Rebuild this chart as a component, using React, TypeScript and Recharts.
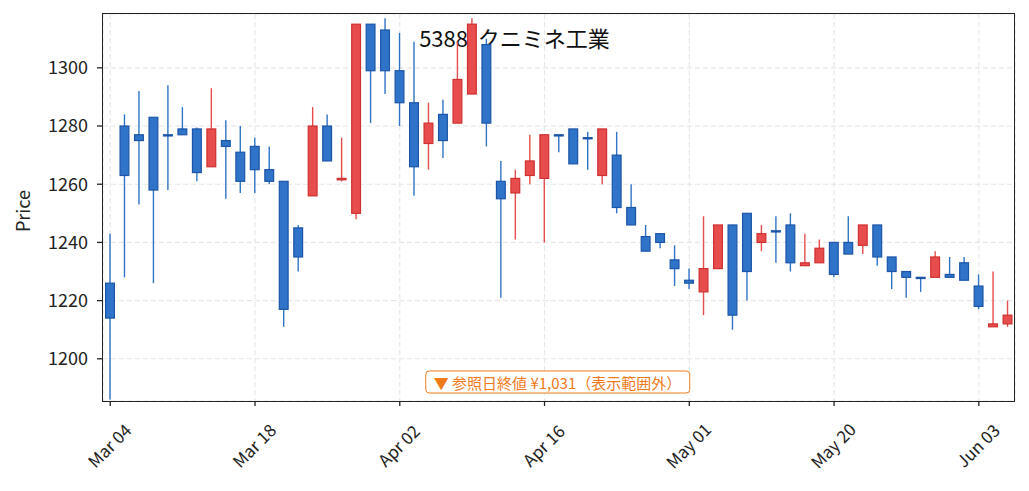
import {
  ComposedChart,
  Bar,
  XAxis,
  YAxis,
  CartesianGrid,
} from 'recharts';

// 5388 クニミネ工業 daily candles (trading days, ticks every 10 sessions)
const dates = [
  'Mar 04', 'Mar 05', 'Mar 06', 'Mar 07', 'Mar 08', 'Mar 11', 'Mar 12', 'Mar 13', 'Mar 14', 'Mar 15',
  'Mar 18', 'Mar 19', 'Mar 21', 'Mar 22', 'Mar 25', 'Mar 26', 'Mar 27', 'Mar 28', 'Mar 29', 'Apr 01',
  'Apr 02', 'Apr 03', 'Apr 04', 'Apr 05', 'Apr 08', 'Apr 09', 'Apr 10', 'Apr 11', 'Apr 12', 'Apr 15',
  'Apr 16', 'Apr 17', 'Apr 18', 'Apr 19', 'Apr 22', 'Apr 23', 'Apr 24', 'Apr 25', 'Apr 26', 'Apr 30',
  'May 01', 'May 02', 'May 07', 'May 08', 'May 09', 'May 10', 'May 13', 'May 14', 'May 15', 'May 17',
  'May 20', 'May 21', 'May 22', 'May 23', 'May 24', 'May 27', 'May 28', 'May 29', 'May 30', 'May 31',
  'Jun 03', 'Jun 04', 'Jun 05',
];

const opens = [
  1226, 1280, 1277, 1283, 1277, 1279, 1279, 1266, 1275, 1271,
  1273, 1265, 1261, 1245, 1256, 1280, 1261.5, 1250, 1315, 1313,
  1299, 1288, 1274, 1284, 1281, 1291, 1308, 1261, 1257, 1263,
  1262, 1277, 1279, 1276, 1263, 1270, 1252, 1242, 1243, 1234,
  1227, 1223, 1231, 1246, 1250, 1240, 1244, 1246, 1232, 1233,
  1240, 1240, 1239, 1246, 1235, 1230, 1228, 1228, 1229, 1233,
  1225, 1211, 1212,
];

const closes = [
  1214, 1263, 1275, 1258, 1277, 1277, 1264, 1279, 1273, 1261,
  1265, 1261, 1217, 1235, 1280, 1268, 1262, 1315, 1299, 1299,
  1288, 1266, 1281, 1275, 1296, 1315, 1281, 1255, 1262, 1268,
  1277, 1277, 1267, 1276, 1279, 1252, 1246, 1237, 1240, 1231,
  1226, 1231, 1246, 1215, 1230, 1243, 1244, 1233, 1233, 1238,
  1229, 1236, 1246, 1235, 1230, 1228, 1228, 1235, 1228, 1227,
  1218, 1212, 1215,
];

const highs = [
  1243, 1284, 1292, 1283, 1294, 1286.5, 1279.5, 1293, 1282, 1280,
  1276, 1273, 1261, 1246, 1286.5, 1284, 1276, 1315, 1315, 1317,
  1312, 1309, 1288, 1289, 1309, 1317, 1310, 1268, 1265, 1277,
  1277, 1277, 1279, 1278, 1279, 1278, 1260, 1246, 1243, 1239,
  1231, 1249, 1246, 1246, 1250, 1246, 1249, 1250, 1243, 1241,
  1240, 1249, 1246, 1246, 1235, 1230, 1228, 1237, 1235, 1235,
  1229, 1230, 1220,
];

const lows = [
  1186, 1228, 1253, 1226, 1258, 1277, 1261, 1266, 1255, 1257,
  1257, 1260, 1211, 1230, 1256, 1268, 1261, 1248, 1281, 1291,
  1280, 1256, 1265, 1269, 1281, 1291, 1273, 1221, 1241, 1260,
  1240, 1271, 1267, 1265, 1260, 1250, 1246, 1237, 1238, 1225,
  1224, 1215, 1231, 1210, 1220, 1237, 1233, 1230, 1232, 1233,
  1228, 1236, 1236, 1232, 1224, 1221, 1223, 1228, 1228, 1227,
  1217, 1211, 1211,
];

const xTicks = ['Mar 04', 'Mar 18', 'Apr 02', 'Apr 16', 'May 01', 'May 20', 'Jun 03'];
const yTicks = [1200, 1220, 1240, 1260, 1280, 1300];

const UP = { fill: '#e84d4d', stroke: '#cf3030' };
const DOWN = { fill: '#2f74c8', stroke: '#1c55a8' };
const FONT = '"Noto Sans CJK JP", "Noto Sans", sans-serif';

const data = dates.map((date, i) => ({
  date,
  open: opens[i],
  close: closes[i],
  high: highs[i],
  low: lows[i],
  range: [lows[i], highs[i]],
}));

function Candle(props: any) {
  const { x, y, width, height, payload } = props;
  if (!payload) return null;
  const { open, close, high, low } = payload;
  const top = Math.min(y, y + height);
  const h = Math.abs(height);
  const ratio = h / (high - low);
  const yOf = (v: number) => top + (high - v) * ratio;
  const c = close > open ? UP : DOWN;
  const bodyTop = yOf(Math.max(open, close));
  const bodyH = Math.max(yOf(Math.min(open, close)) - bodyTop, 1.2);
  const cx = x + width / 2;
  return (
    <g>
      <line x1={cx} x2={cx} y1={top} y2={top + h} stroke={c.fill} strokeWidth={1.4} />
      <rect
        x={x + 0.6}
        y={bodyTop}
        width={width - 1.2}
        height={bodyH}
        fill={c.fill}
        stroke={c.stroke}
        strokeWidth={1.2}
      />
    </g>
  );
}

function DateTick(props: any) {
  const { x, y, payload } = props;
  const cx = x - 1.5;
  const cy = y + 37;
  return (
    <text
      x={cx}
      y={cy}
      transform={`rotate(-45 ${cx} ${cy})`}
      textAnchor="middle"
      dominantBaseline="central"
      fontSize={17}
      fontFamily={FONT}
      fill="#222"
    >
      {payload.value}
    </text>
  );
}

export default function App() {
  return (
    <div style={{ position: 'absolute', left: 0, top: 0, width: 1029, height: 491, background: '#fff' }}>
      {/* title sits behind the candles */}
      <div
        style={{
          position: 'absolute',
          left: 0,
          width: 1029,
          top: 22,
          textAlign: 'center',
          fontFamily: FONT,
          fontSize: 22,
          color: '#111',
          lineHeight: '30px',
          whiteSpace: 'pre',
        }}
      >
        {'5388  クニミネ工業'}
      </div>

      <ComposedChart
        width={1029}
        height={491}
        data={data}
        margin={{ top: 14, right: 14, left: 0, bottom: 0 }}
      >
        <CartesianGrid stroke="#e6e6e6" strokeDasharray="5 3" strokeWidth={1.1} />
        <XAxis
          dataKey="date"
          ticks={xTicks}
          interval={0}
          height={90}
          tickSize={5}
          tickMargin={2}
          tick={<DateTick />}
          axisLine={false}
          tickLine={{ stroke: '#222', strokeWidth: 1.3 }}
        />
        <YAxis
          domain={[1185.5, 1318.5]}
          ticks={yTicks}
          allowDataOverflow
          width={103}
          tickSize={6}
          tickMargin={9}
          tick={{ fontSize: 18, fill: '#222', fontFamily: FONT }}
          axisLine={false}
          tickLine={{ stroke: '#222', strokeWidth: 1.3 }}
        />
        <Bar dataKey="range" barSize={10} shape={<Candle />} isAnimationActive={false} />
      </ComposedChart>

      {/* axes frame */}
      <div
        style={{
          position: 'absolute',
          left: 101.9,
          top: 13,
          width: 913.6,
          height: 388.8,
          border: '1.6px solid #222',
          boxSizing: 'border-box',
          pointerEvents: 'none',
        }}
      />

      <div
        style={{
          position: 'absolute',
          left: 22,
          top: 211,
          transform: 'translate(-50%, -50%) rotate(-90deg)',
          fontFamily: FONT,
          fontSize: 18,
          color: '#222',
          whiteSpace: 'nowrap',
        }}
      >
        Price
      </div>

      <div
        style={{
          position: 'absolute',
          left: 557.5,
          top: 382,
          transform: 'translate(-50%, -50%)',
          fontFamily: FONT,
          fontSize: 15,
          color: '#f07a1a',
          border: '1.6px solid #f07a1a',
          borderRadius: 4,
          background: '#fff',
          padding: '0px 8px',
          whiteSpace: 'nowrap',
          lineHeight: '21px',
        }}
      >
        ▼ 参照日終値 ¥1,031（表示範囲外）
      </div>
    </div>
  );
}
